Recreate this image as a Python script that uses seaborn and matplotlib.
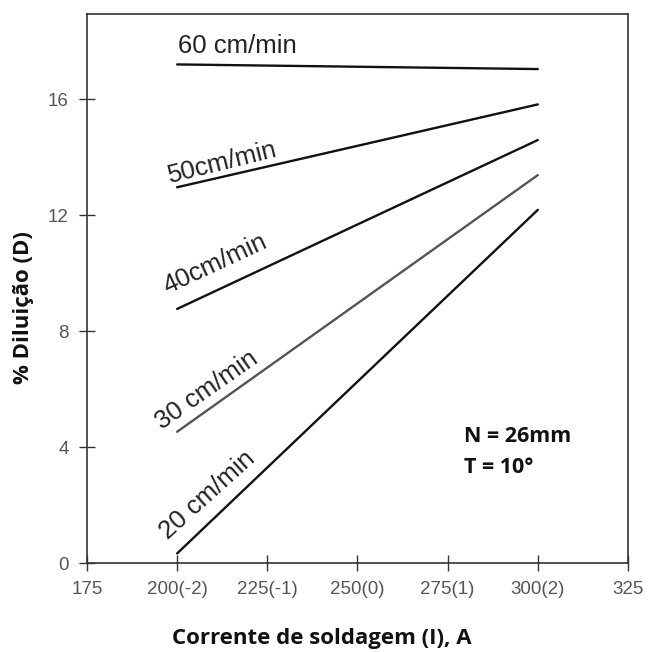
import matplotlib
matplotlib.use("Agg")
from matplotlib import pyplot as plt
import numpy as np
import pandas as pd
import seaborn as sns

# dados (corrente de soldagem x % diluicao)
corrente = [200, 300]
dil_20 = [0.33, 12.19]
dil_30 = [4.53, 13.39]
dil_40 = [8.77, 14.60]
dil_50 = [12.97, 15.83]
dil_60 = [17.21, 17.05]
velocidades = ["20 cm/min", "30 cm/min", "40cm/min", "50cm/min", "60 cm/min"]
x_ticks = [175, 200, 225, 250, 275, 300, 325]
x_tick_labels = ["175", "200(-2)", "225(-1)", "250(0)", "275(1)", "300(2)", "325"]
y_ticks = [0, 4, 8, 12, 16]

series = [dil_20, dil_30, dil_40, dil_50, dil_60]
df = pd.concat(
    [pd.DataFrame({"corrente": corrente, "diluicao": vals, "velocidade": v})
     for v, vals in zip(velocidades, series)],
    ignore_index=True,
)

sns.set_style("white")
plt.rcParams["font.family"] = ["Liberation Sans", "DejaVu Sans"]

fig = plt.figure(figsize=(6.49, 6.52), dpi=100)
ax = fig.add_axes([0.134, 0.1365, 0.8336, 0.842])

cores = {"20 cm/min": "#111111", "30 cm/min": "#555555", "40cm/min": "#111111",
         "50cm/min": "#111111", "60 cm/min": "#111111"}
sns.lineplot(data=df, x="corrente", y="diluicao", hue="velocidade",
             palette=cores, linewidth=1.7, legend=False, ax=ax)

ax.set_xlim(175, 325)
ax.set_ylim(0, 18.95)
ax.set_xticks(x_ticks)
ax.set_xticklabels(x_tick_labels)
ax.set_yticks(y_ticks)
ax.tick_params(bottom=True, left=True, direction="inout", length=12, width=1.0,
               color="#333333", labelsize=13.5, labelcolor="#555555", pad=7)
for s in ax.spines.values():
    s.set_color("#333333")
    s.set_linewidth(1.2)

# rotulos das curvas
rot_kw = dict(fontsize=18.5, color="#222222", ha="left", va="baseline",
              rotation_mode="anchor")
ax.text(200.2, 17.6, velocidades[4], rotation=0, **rot_kw)
ax.text(198.0, 13.1, velocidades[3], rotation=14, **rot_kw)
ax.text(197.2, 9.3, velocidades[2], rotation=25, **rot_kw)
ax.text(195.8, 4.6, velocidades[1], rotation=35, **rot_kw)
ax.text(197.4, 0.8, velocidades[0], rotation=42, **rot_kw)

lab_kw = dict(fontweight="bold", color="#111111",
              family=["Open Sans", "DejaVu Sans"])
ax.text(279.5, 4.35, "N = 26mm", ha="left", va="center", fontsize=15.5, **lab_kw)
ax.text(279.5, 3.3, "T = 10°", ha="left", va="center", fontsize=15.5, **lab_kw)

ax.set_xlabel("Corrente de soldagem (I), A", fontsize=16, **lab_kw)
ax.set_ylabel("% Diluição (D)", fontsize=16, **lab_kw)
ax.xaxis.set_label_coords(0.434, -0.137)
ax.yaxis.set_label_coords(-0.1165, 0.4645)
ax.xaxis.label.set_va("center")
ax.yaxis.label.set_va("center")

fig.savefig("out.png", dpi=100, facecolor="white")
